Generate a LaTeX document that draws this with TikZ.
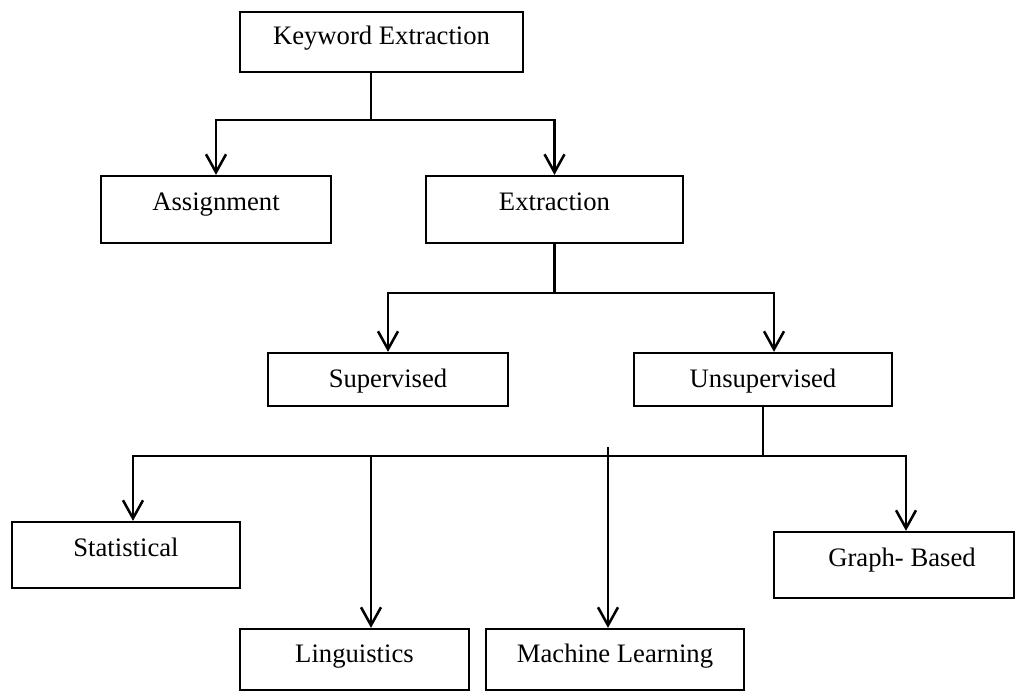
\documentclass[tikz,border=0pt]{standalone}
\usepackage{fontspec}
\setmainfont{Liberation Serif}
\usetikzlibrary{arrows.meta}

\tikzset{
  box/.style={draw=black, line width=1.7pt, rectangle, inner sep=0pt},
  lbl/.style={anchor=base, inner sep=0pt, font=\fontsize{20pt}{24pt}\selectfont},
  conn/.style={draw=black, line width=1.9pt},
  arr/.style={conn, -{Straight Barb[length=13.5pt, width=15pt, line width=1.9pt]}},
}

\begin{document}
\begin{tikzpicture}[x=0.75pt, y=-0.75pt]
  \useasboundingbox (0,0) rectangle (1027,692);

  % boxes
  \node[box, minimum width=283*0.75pt, minimum height=60*0.75pt] (kw)    at (381.5,42)   {};
  \node[box, minimum width=230*0.75pt, minimum height=67*0.75pt] (asg)   at (216,209.5)  {};
  \node[box, minimum width=257*0.75pt, minimum height=67*0.75pt] (ext)   at (554.5,209.5){};
  \node[box, minimum width=240*0.75pt, minimum height=53*0.75pt] (sup)   at (388,379.5)  {};
  \node[box, minimum width=258*0.75pt, minimum height=53*0.75pt] (uns)   at (763,379.5)  {};
  \node[box, minimum width=228*0.75pt, minimum height=66*0.75pt] (stat)  at (126,555)    {};
  \node[box, minimum width=240*0.75pt, minimum height=66*0.75pt] (graph) at (894,565)    {};
  \node[box, minimum width=229*0.75pt, minimum height=61*0.75pt] (ling)  at (354.5,659.5){};
  \node[box, minimum width=258*0.75pt, minimum height=61*0.75pt] (ml)    at (615,659.5)  {};

  % labels, set near the top of each box
  \node[lbl] (kwt)    at ([yshift=-25.5pt]kw.north)  {Keyword Extraction};
  \node[lbl] (asgt)   at ([yshift=-27pt]asg.north)   {Assignment};
  \node[lbl] (extt)   at ([yshift=-27pt]ext.north)   {Extraction};
  \node[lbl] (supt)   at ([yshift=-27pt]sup.north)   {Supervised};
  \node[lbl] (unst)   at ([yshift=-27pt]uns.north)   {Unsupervised};
  \node[lbl] (statt)  at ([yshift=-27pt]stat.north)  {Statistical};
  \node[lbl] (grapht) at ([xshift=6pt,yshift=-27pt]graph.north) {Graph- Based};
  \node[lbl] (lingt)  at ([yshift=-26pt]ling.north)  {Linguistics};
  \node[lbl] (mlt)    at ([yshift=-26pt]ml.north)    {Machine Learning};

  % junction points
  \coordinate (j1) at (371,120);
  \coordinate (j2) at (554.5,293);
  \coordinate (t2) at (774,293);
  \coordinate (j3) at (763,456);
  \coordinate (hl) at (133,456);
  \coordinate (hr) at (906,456);
  \coordinate (t3) at (371,456);
  \coordinate (t4) at (608,447);

  % first level
  \draw[conn] (j1 |- kw.south) -- (j1);
  \draw[arr] (j1) -| (asg.north);
  \draw[arr] (j1) -| (ext.north);

  % second level
  \draw[conn] (ext.south) -- (j2);
  \draw[arr] (j2) -| (sup.north);
  \draw[arr] (j2) -- (t2) -- (t2 |- uns.north);

  % third level
  \draw[conn] (uns.south) -- (j3);
  \draw[arr] (j3) -- (hl) -- (hl |- stat.north);
  \draw[arr] (j3) -- (hr) -- (hr |- graph.north);
  \draw[arr] (t3) -- (t3 |- ling.north);
  \draw[arr] (t4) -- (t4 |- ml.north);
\end{tikzpicture}
\end{document}
